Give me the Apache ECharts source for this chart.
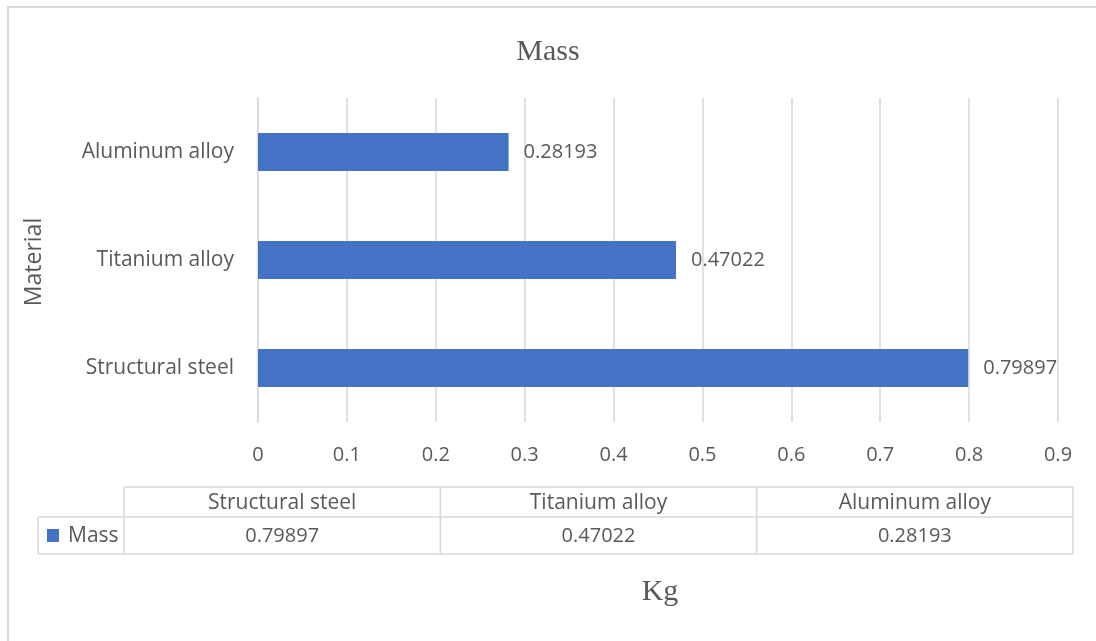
<!DOCTYPE html>
<html>
<head>
<meta charset="utf-8">
<script src="https://cdn.jsdelivr.net/npm/echarts@6/dist/echarts.min.js"></script>
<style>
  html, body { margin: 0; padding: 0; background: #fff; }
  #chart { width: 1096px; height: 641px; }
</style>
</head>
<body>
<div id="chart"></div>
<script>
// data
var seriesName = 'Mass';
var materials = ['Structural steel', 'Titanium alloy', 'Aluminum alloy'];
var masses = [0.79897, 0.47022, 0.28193];

var textColor = '#595959';
var lineColor = '#d9d9d9';
var barColor = '#4472C4';
var font = 'Open Sans';

var chart = echarts.init(document.getElementById('chart'));

// data table under the chart (drawn with graphic elements)
var tblLeft = 38, tblFirst = 124, tblRight = 1073;
var rowTop = 487, rowMid = 517, rowBot = 554;
var colW = (tblRight - tblFirst) / materials.length;
var tableEls = [];
function hline(x1, x2, y) {
    tableEls.push({ type: 'line', shape: { x1: x1, y1: y, x2: x2, y2: y }, style: { stroke: lineColor, lineWidth: 1.5 } });
}
function vline(x, y1, y2) {
    tableEls.push({ type: 'line', shape: { x1: x, y1: y1, x2: x, y2: y2 }, style: { stroke: lineColor, lineWidth: 1.5 } });
}
hline(tblFirst, tblRight, rowTop);
hline(tblLeft, tblRight, rowMid);
hline(tblLeft, tblRight, rowBot);
vline(tblLeft, rowMid, rowBot);
for (var c = 0; c <= materials.length; c++) {
    vline(tblFirst + c * colW, rowTop, rowBot);
}
materials.forEach(function (m, i) {
    var cx = tblFirst + colW * (i + 0.5);
    tableEls.push({ type: 'text', x: cx, y: (rowTop + rowMid) / 2 + 1, style: { text: m, fill: textColor, font: '21px "' + font + '"', align: 'center', verticalAlign: 'middle' } });
    tableEls.push({ type: 'text', x: cx, y: (rowMid + rowBot) / 2 + 1, style: { text: String(masses[i]), fill: textColor, font: '20px "' + font + '"', align: 'center', verticalAlign: 'middle' } });
});
// legend key in the table
tableEls.push({ type: 'rect', shape: { x: 47, y: 529, width: 12, height: 13 }, style: { fill: barColor } });
tableEls.push({ type: 'text', x: 68, y: (rowMid + rowBot) / 2 + 1, style: { text: seriesName, fill: textColor, font: '21px "' + font + '"', align: 'left', verticalAlign: 'middle' } });

var option = {
    backgroundColor: '#fff',
    animation: false,
    title: {
        text: 'Mass',
        left: 'center',
        top: 32,
        textStyle: { fontFamily: 'Liberation Serif', fontWeight: 'normal', fontSize: 30, color: textColor }
    },
    grid: { left: 258, right: 38, top: 98, bottom: 219, containLabel: false },
    xAxis: {
        type: 'value',
        min: 0,
        max: 0.9,
        interval: 0.1,
        axisLine: { show: false },
        axisTick: { show: false },
        axisLabel: { color: textColor, fontFamily: font, fontSize: 20, margin: 23 },
        splitLine: { lineStyle: { color: lineColor, width: 1.5 } }
    },
    yAxis: {
        type: 'category',
        data: materials,
        axisLine: { lineStyle: { color: lineColor, width: 1.5 } },
        axisTick: { show: false },
        axisLabel: { color: textColor, fontFamily: font, fontSize: 21, margin: 24 }
    },
    series: [{
        name: seriesName,
        type: 'bar',
        data: masses,
        barWidth: 38,
        itemStyle: { color: barColor },
        label: {
            show: true,
            position: 'right',
            distance: 15,
            color: textColor,
            fontFamily: font,
            fontSize: 20
        }
    }],
    graphic: [
        { type: 'rect', shape: { x: 8, y: 7, width: 1100, height: 650 }, style: { fill: null, stroke: lineColor, lineWidth: 2 }, z: 100 },
        { type: 'text', x: 34, y: 262, rotation: Math.PI / 2, style: { text: 'Material', fill: textColor, font: '23px "' + font + '"', align: 'center', verticalAlign: 'middle' } },
        { type: 'text', x: 660, y: 592, style: { text: 'Kg', fill: textColor, font: '30px "Liberation Serif"', align: 'center', verticalAlign: 'middle' } }
    ].concat(tableEls)
};

chart.setOption(option);
</script>
</body>
</html>
